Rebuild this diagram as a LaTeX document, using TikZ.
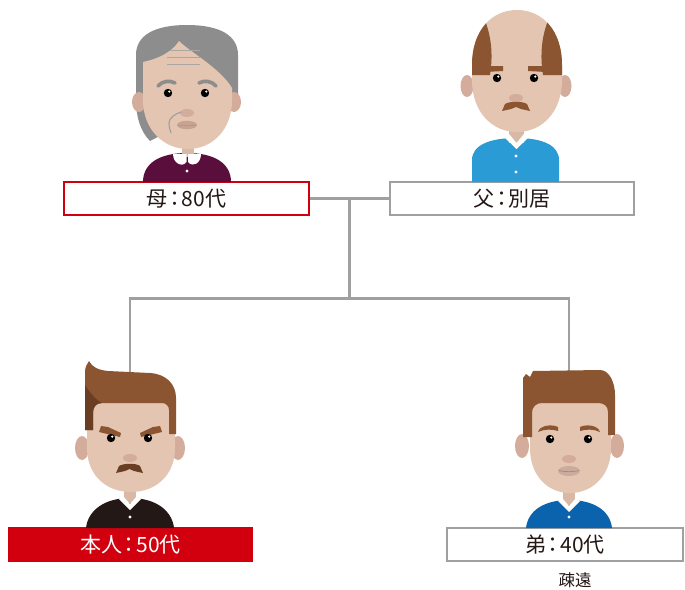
\documentclass[tikz,border=0pt]{standalone}
\usepackage{fontspec}
\newfontfamily\jp{Noto Sans CJK JP}
\usetikzlibrary{calc}

\definecolor{skin}{HTML}{E3C5B1}
\definecolor{skindark}{HTML}{D3AC9B}
\definecolor{necktone}{HTML}{D9B8A5}
\definecolor{hairgray}{HTML}{8D8D8D}
\definecolor{wrinkle}{HTML}{A9A6A4}
\definecolor{brown}{HTML}{8A5530}
\definecolor{darkbrown}{HTML}{6A3E23}
\definecolor{plum}{HTML}{5A0E3C}
\definecolor{skyblue}{HTML}{2B9BD6}
\definecolor{navy}{HTML}{0B63AD}
\definecolor{ink}{HTML}{231815}
\definecolor{alert}{HTML}{D2000F}
\definecolor{linegray}{HTML}{A0A0A2}
\definecolor{lipmom}{HTML}{C7A391}
\definecolor{lipbro}{HTML}{C9AC9D}

% narrow full-width colon used in the labels
\newcommand\lblcolon{\kern-3.5pt：\kern-3.5pt}

\tikzset{
  eyeball/.pic={\fill[black] (0,0) circle (4.2); \fill[white] (1.3,-1.4) circle (1.2);},
  nosetip/.pic={\fill[skindark] (0,0) ellipse (7 and 4);},
  button/.pic={\fill[white] (0,0) circle (1.6);},
  labelbox/.style={minimum height=33, inner sep=0, text=ink,
    font=\jp\fontsize{21}{23}\selectfont},
  link/.style={draw=linegray, line width=2.2},
}

\begin{document}
\begin{tikzpicture}[x=1pt,y=-1pt]
\useasboundingbox (0,0) rectangle (685,589);
\fill[white] (0,0) rectangle (685,589);

% ---------- label boxes ----------
\node[labelbox, minimum width=245, draw=alert, line width=2, fill=white] (mom) at (186.5,198.5) {母\lblcolon 80代};
\node[labelbox, minimum width=244, draw=linegray, line width=2, fill=white] (dad) at (512,198.5) {父\lblcolon 別居};
\node[labelbox, minimum width=245, minimum height=35, fill=alert, text=white] (me) at (130.5,544.5) {本人\lblcolon 50代};
\node[labelbox, minimum width=236, draw=linegray, line width=2, fill=white] (bro) at (565,544.5) {弟\lblcolon 40代};
\node[text=ink, inner sep=0, font=\jp\fontsize{16.5}{18}\selectfont] (note) at (575,580) {疎遠};

% ---------- family lines ----------
\coordinate (mid) at ($(mom.east)!0.5!(dad.west)$);
\coordinate (fork) at (349.5,298.5);
\coordinate (meTop) at (130,385);
\coordinate (broTop) at (569,385);
\draw[link] (mom.east) -- (dad.west);
\draw[link] (mid) -- (fork);
\draw[link] (meTop) |- (fork) -| (broTop);

% ---------- mother ----------
\fill[plum] (143,182) .. controls (143,163) and (160,153) .. (187,153)
  .. controls (214,153) and (231,163) .. (231,182) -- cycle;
\fill[necktone] (181.5,138) rectangle (193.5,157);
\fill[white] (186.5,154) -- (173,154) .. controls (173,163) and (182,168) .. (186.5,162) -- cycle;
\fill[white] (188,154) -- (201,154) .. controls (201,163) and (193,168) .. (188,162) -- cycle;
\pic at (187,171) {button};
% hair behind the face
\fill[hairgray] (136,55) .. controls (136,35) and (155,25) .. (187,25)
  .. controls (219,25) and (238,35) .. (238,55) -- (238,95) -- (150,141)
  .. controls (140,131) and (136,116) .. (136,100) -- cycle;
\fill[skindark] (139,102) ellipse (7 and 10);
\fill[skindark] (234,102) ellipse (7 and 10);
% face below the fringe
\fill[skin] (143,62) .. controls (158,59) and (172,52) .. (179,41)
  .. controls (190,52) and (220,68) .. (232,88) -- (232,100)
  .. controls (232,130) and (212,149) .. (188,149)
  .. controls (164,149) and (143,130) .. (143,100) -- cycle;
\draw[wrinkle, line width=0.9] (170,50) -- (200,50) (167,57.5) -- (200,57.5) (167,64) -- (200,64);
\draw[hairgray, line width=3.6, line cap=round] (158,86) .. controls (162,81) and (170,80) .. (175,83);
\draw[hairgray, line width=3.6, line cap=round] (199,83) .. controls (204,80) and (212,81) .. (216,86);
\pic at (168,93) {eyeball};
\pic at (205,93) {eyeball};
\pic at (187,113) {nosetip};
\draw[hairgray!85, line width=1.1] (181,112) .. controls (175,114) and (169,118) .. (169,123) .. controls (169,127) and (170,130) .. (171,133);
\fill[lipmom] (187,125) ellipse (10 and 4.2);
\draw[skindark!80!black!60!lipmom, line width=0.7] (178,125) .. controls (183,126) and (191,126) .. (196,125);

% ---------- father ----------
\fill[skyblue] (472,182) -- (472,160) .. controls (472,145) and (490,138) .. (516,138)
  .. controls (542,138) and (559,145) .. (559,160) -- (559,182) -- cycle;
\fill[necktone] (509,122) rectangle (524,143);
\fill[white] (504,137) -- (516.5,149) -- (529,137) -- (524,134) -- (516.5,143) -- (509,134) -- cycle;
\pic at (516,156) {button};
\pic at (516,172) {button};
\fill[skindark] (467,86) ellipse (6.5 and 11);
\fill[skindark] (565,86) ellipse (6.5 and 11);
\begin{scope}
  \path[clip] (472,65) .. controls (472,30) and (492,10) .. (517,10)
    .. controls (542,10) and (562,30) .. (562,65) -- (562,80)
    .. controls (562,112) and (542,132) .. (517,132)
    .. controls (492,132) and (472,112) .. (472,80) -- cycle;
  \fill[skin] (460,0) rectangle (575,140);
  \fill[brown] (460,75) -- (460,10) -- (480,10) .. controls (490,28) and (494,50) .. (490,75) -- cycle;
  \fill[brown] (575,75) -- (575,10) -- (553,10) .. controls (543,28) and (539,50) .. (543,75) -- cycle;
\end{scope}
\fill[brown] (485,72) -- (486,66) -- (503,66) -- (503,71) -- cycle;
\fill[brown] (528,71) -- (528,66) -- (545,66) -- (546,72) -- cycle;
\pic at (497,78) {eyeball};
\pic at (534,78) {eyeball};
\pic at (516,98) {nosetip};
\fill[brown] (502,111) -- (505,104) .. controls (510,101) and (522,101) .. (527,104)
  -- (530,111) -- (521,109) -- (516,107) -- (511,109) -- cycle;

% ---------- self ----------
\fill[ink] (86,528) .. controls (88,510) and (105,498) .. (130,498)
  .. controls (155,498) and (172,510) .. (174,528) -- cycle;
\fill[necktone] (124,482) rectangle (136,503);
\fill[white] (119,499) -- (130,510) -- (141,499) -- (137,496) -- (130,504) -- (123,496) -- cycle;
\pic at (130,517) {button};
\fill[skindark] (82,448) ellipse (7 and 12);
\fill[skindark] (178,448) ellipse (7 and 12);
\fill[skin] (87,420) .. controls (87,410) and (92,401) .. (100,401) -- (168,401)
  .. controls (173,401) and (175,408) .. (175,415) -- (175,448)
  .. controls (175,475) and (156,492) .. (131,492)
  .. controls (106,492) and (87,475) .. (87,448) -- cycle;
\fill[brown] (85,430) -- (85,372) .. controls (85,367) and (87,364) .. (89,361)
  .. controls (92,367) and (98,370) .. (108,371) -- (150,373)
  .. controls (166,374) and (176,384) .. (176,398) -- (176,434) -- (169,434)
  -- (169,410) .. controls (169,406) and (166,403) .. (162,403) -- (102,403)
  .. controls (96,403) and (93,407) .. (93,413) -- (93,430) -- cycle;
\fill[darkbrown] (85,430) -- (85,385) .. controls (90,393) and (96,400) .. (102,403)
  .. controls (96,403) and (93,407) .. (93,413) -- (93,430) -- cycle;
\fill[brown] (99,432) -- (101,426) -- (108,427) -- (121,433) -- (120,437) -- cycle;
\fill[brown] (162,432) -- (160,426) -- (153,427) -- (140,433) -- (141,437) -- cycle;
\pic at (111,438) {eyeball};
\pic at (148,438) {eyeball};
\pic at (130,458) {nosetip};
\fill[darkbrown] (116,473) -- (119,466) .. controls (124,463) and (136,463) .. (140,466)
  -- (143,473) -- (134,471) -- (129.5,469) -- (125,471) -- cycle;

% ---------- brother ----------
\fill[navy] (526,528) .. controls (528,510) and (545,500) .. (569,500)
  .. controls (593,500) and (610,510) .. (612,528) -- cycle;
\fill[necktone] (563,484) rectangle (575,505);
\fill[white] (558,501) -- (569,512) -- (580,501) -- (576,498) -- (569,506) -- (562,498) -- cycle;
\pic at (569,517) {button};
\fill[skindark] (522,446) ellipse (7 and 12);
\fill[skindark] (617,446) ellipse (7 and 12);
\fill[skin] (530,420) .. controls (530,410) and (535,401) .. (543,401) -- (603,401)
  .. controls (608,401) and (611,408) .. (611,415) -- (611,448)
  .. controls (611,476) and (592,493) .. (570,493)
  .. controls (548,493) and (530,476) .. (530,448) -- cycle;
\fill[brown] (523,437) -- (523,378) -- (526,374) -- (530,377) -- (533,371) -- (600,370)
  .. controls (609,370) and (615,382) .. (615,395) -- (615,435) -- (608,435)
  -- (608,412) .. controls (608,406) and (604,403) .. (598,403) -- (542,403)
  .. controls (536,403) and (532,407) .. (532,413) -- (532,437) -- cycle;
\fill[brown] (538,432) .. controls (540,425) and (552,424) .. (558,427) -- (558,431)
  .. controls (552,429) and (544,429) .. (538,432) -- cycle;
\fill[brown] (600,432) .. controls (598,425) and (586,424) .. (580,427) -- (580,431)
  .. controls (586,429) and (594,429) .. (600,432) -- cycle;
\pic at (550,439) {eyeball};
\pic at (588,439) {eyeball};
\pic at (569,459) {nosetip};
\fill[lipbro] (569,471) ellipse (11 and 5);
\draw[lipbro!80!black, line width=0.7] (559,470.5) .. controls (564,472) and (574,472) .. (579,470.5);
\end{tikzpicture}
\end{document}
